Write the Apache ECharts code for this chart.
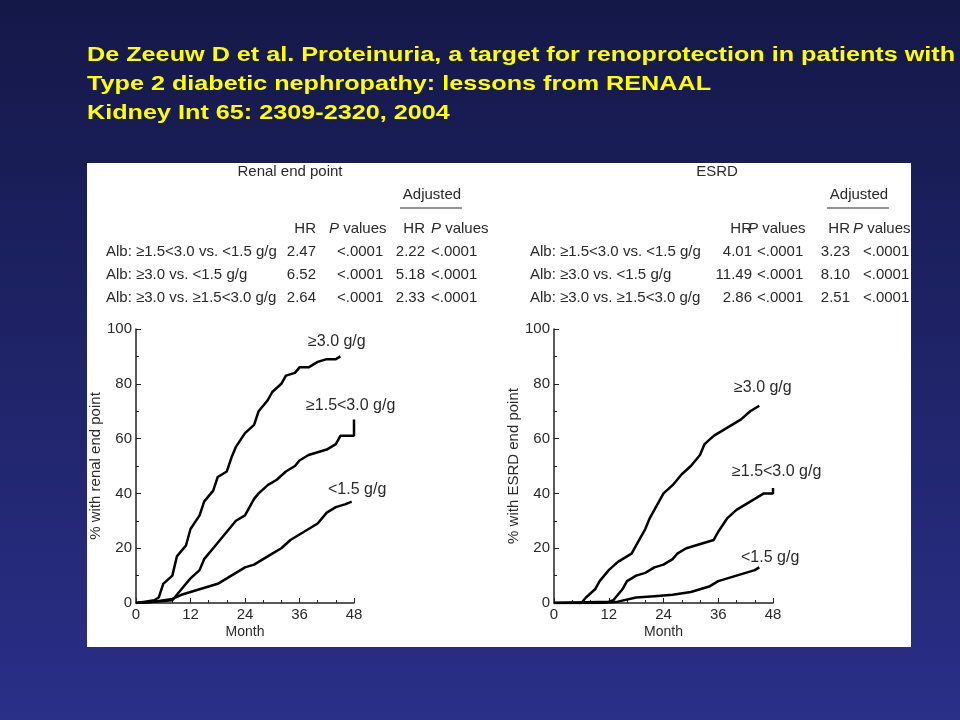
<!DOCTYPE html>
<html><head><meta charset="utf-8">
<script src="https://cdn.jsdelivr.net/npm/echarts@6/dist/echarts.min.js"></script>
<style>html,body{margin:0;padding:0;background:#1a1f5a}#c{width:960px;height:720px}</style>
</head><body><div id="c"></div>
<script>
const titleLines = ["De Zeeuw D et al. Proteinuria, a target for renoprotection in patients with","Type 2 diabetic nephropathy: lessons from RENAAL","Kidney Int 65: 2309-2320, 2004"];
const groupNames = ["≥3.0 g/g","≥1.5<3.0 g/g","<1.5 g/g"];
const rowLabels = ["Alb: ≥1.5<3.0 vs. <1.5 g/g","Alb: ≥3.0 vs. <1.5 g/g","Alb: ≥3.0 vs. ≥1.5<3.0 g/g"];
const renalHR = ["2.47","6.52","2.64"], renalP = ["<.0001","<.0001","<.0001"];
const renalAdjHR = ["2.22","5.18","2.33"], renalAdjP = ["<.0001","<.0001","<.0001"];
const esrdHR = ["4.01","11.49","2.86"], esrdP = ["<.0001","<.0001","<.0001"];
const esrdAdjHR = ["3.23","8.10","2.51"], esrdAdjP = ["<.0001","<.0001","<.0001"];
const monthTicks = [0,12,24,36,48];
const renalHigh = [[0,0],[2,0.5],[4,1],[5,2],[6,7],[8,10],[9,17],[11,21],[12,27],[14,32],[15,37],[17,41],[18,46],[20,48],[21,53],[22,57],[24,62],[26,65],[27,70],[29,74],[30,77],[32,80],[33,83],[35,84],[36,86],[38,86],[40,88],[42,89],[44,89],[45,90]];
const renalMid = [[0,0],[4,0.5],[8,1],[9,3],[11,7],[12,9],[14,12],[15,16],[17,20],[18,22],[20,26],[22,30],[24,32],[26,38],[27,40],[29,43],[31,45],[33,48],[35,50],[36,52],[38,54],[40,55],[42,56],[44,58],[45,61],[47,61],[48,61],[48,67]];
const renalLow = [[0,0],[4,0.5],[8,1.5],[10,3],[12,4],[14,5],[16,6],[18,7],[20,9],[22,11],[24,13],[26,14],[28,16],[30,18],[32,20],[34,23],[36,25],[38,27],[40,29],[42,33],[44,35],[46,36],[47.5,37]];
const esrdHigh = [[0,0],[6,0],[7,2],[9,5],[10,8],[12,12],[14,15],[16,17],[17,18],[18,21],[20,27],[21,31],[22,34],[24,40],[26,43],[28,47],[30,50],[32,54],[33,58],[35,61],[37,63],[39,65],[41,67],[43,70],[45,72]];
const esrdMid = [[0,0],[12,0.5],[13,1],[15,5],[16,8],[18,10],[20,11],[22,13],[24,14],[26,16],[27,18],[29,20],[31,21],[33,22],[35,23],[36,26],[38,31],[40,34],[42,36],[44,38],[46,40],[48,40],[48,42]];
const esrdLow = [[0,0],[10,0],[14,0.5],[18,2],[22,2.5],[26,3],[30,4],[32,5],[34,6],[36,8],[38,9],[40,10],[42,11],[44,12],[45,13]];

const chart = echarts.init(document.getElementById('c'));
const F = 'Liberation Sans, Arial, sans-serif';
const tc = '#2a2a2a';
function txt(x,y,t,o){return {type:'text',x:x,y:y,style:Object.assign({text:t,fill:tc,font:'15px '+F},o||{})};}
const rich = {i:{fontStyle:'italic',fontSize:15,fontFamily:F,fill:tc}};
const g = [
 {type:'rect',shape:{x:87,y:163,width:824,height:484},style:{fill:'#fff'}}
];
titleLines.forEach((t,i)=>g.push({type:'text',x:87,y:45+i*29,scaleX:1.26,style:{text:t,fill:'#ffff00',font:'bold 20px '+F}}));
function table(c, head, hr, p, ahr, ap, headX, adjX){
 g.push(txt(headX,164,head,{align:'center'}));
 g.push(txt(adjX,187,'Adjusted',{align:'center'}));
 g.push({type:'line',shape:{x1:adjX-32,y1:208,x2:adjX+30,y2:208},style:{stroke:tc,lineWidth:1}});
 g.push(txt(c.hrR,221,'HR',{align:'right'}));
 g.push(txt(c.ph,221,'{i|P} values',{rich:rich}));
 g.push(txt(c.ahrR,221,'HR',{align:'right'}));
 g.push(txt(c.aph,221,'{i|P} values',{rich:rich}));
 rowLabels.forEach((r,i)=>{
  const y=244+i*23;
  g.push(txt(c.lab,y,r)); g.push(txt(c.hrR,y,hr[i],{align:'right'})); g.push(txt(c.p,y,p[i]));
  g.push(txt(c.ahrR,y,ahr[i],{align:'right'})); g.push(txt(c.ap,y,ap[i]));
 });
}
table({lab:106,hrR:316,ph:329,p:337,ahrR:425,aph:431,ap:431},'Renal end point',renalHR,renalP,renalAdjHR,renalAdjP,290,432);
table({lab:530,hrR:752,ph:748,p:757,ahrR:850,aph:853,ap:863},'ESRD',esrdHR,esrdP,esrdAdjHR,esrdAdjP,717,859);
[[308,334,0],[306,398,1],[328,482,2],[734,380,0],[732,464,1],[741,550,2]].forEach(a=>g.push(txt(a[0],a[1],groupNames[a[2]],{font:'16px '+F})));

function xAx(i){return {type:'value',gridIndex:i,min:0,max:48,interval:12,name:'Month',nameLocation:'middle',nameGap:22,
 nameTextStyle:{color:tc,fontSize:14,fontFamily:F},axisLine:{lineStyle:{color:'#222',width:1.5}},
 axisTick:{inside:true,length:5,lineStyle:{color:'#222'}},minorTick:{show:true,splitNumber:3,length:3,lineStyle:{color:'#222'}},
 axisLabel:{color:tc,fontSize:15,fontFamily:F,margin:4},splitLine:{show:false}};}
function yAx(i,n){return {type:'value',gridIndex:i,min:0,max:100,interval:20,name:n,nameLocation:'middle',nameGap:32,
 nameTextStyle:{color:tc,fontSize:15,fontFamily:F},axisLine:{show:true,lineStyle:{color:'#222',width:1.5}},
 axisTick:{show:true,inside:true,length:5,lineStyle:{color:'#222'}},minorTick:{show:true,splitNumber:2,length:3,lineStyle:{color:'#222'}},
 axisLabel:{color:tc,fontSize:15,fontFamily:F,margin:4},splitLine:{show:false}};}
function s(i,d){return {type:'line',xAxisIndex:i,yAxisIndex:i,data:d,showSymbol:false,lineStyle:{color:'#000',width:2.5},z:5};}
chart.setOption({
 backgroundColor:{type:'linear',x:0,y:0,x2:0,y2:1,colorStops:[{offset:0,color:'#141848'},{offset:1,color:'#2a2f88'}]},
 animation:false,
 grid:[{left:136,top:329,width:218,height:274},{left:554,top:329,width:219,height:274}],
 xAxis:[xAx(0),xAx(1)],
 yAxis:[yAx(0,'% with renal end point'),yAx(1,'% with ESRD end point')],
 series:[s(0,renalHigh),s(0,renalMid),s(0,renalLow),s(1,esrdHigh),s(1,esrdMid),s(1,esrdLow)],
 graphic:g.map(e=>Object.assign({z:e.type==='rect'?-1:10},e))
});
</script></body></html>
